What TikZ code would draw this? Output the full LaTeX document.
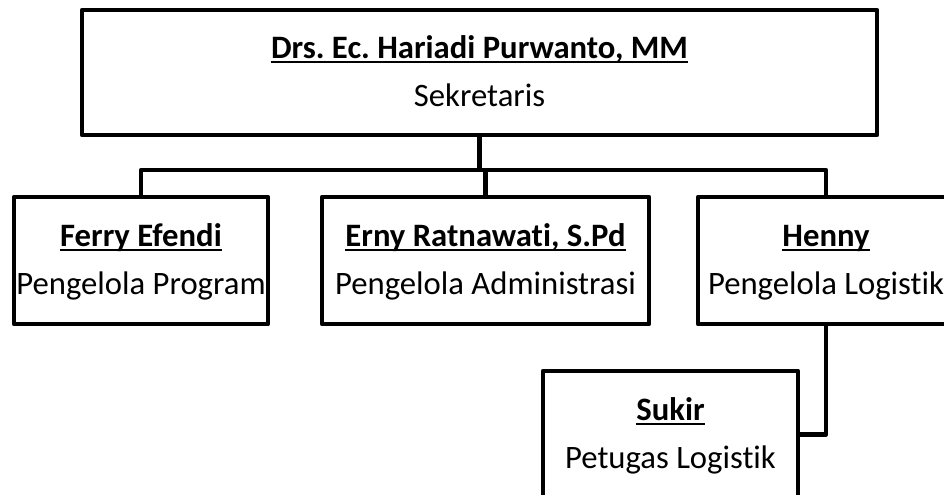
\documentclass[tikz,border=0pt]{standalone}
\usepackage{fontspec}
\setmainfont[Ligatures=NoCommon]{Carlito}
\frenchspacing

% name with a fixed underline under the baseline
\newcommand{\uln}[1]{\setbox0\hbox{#1}\rlap{\rule[-3pt]{\wd0}{1.1pt}}\box0}
\newcommand{\person}[2]{\strut\uln{\textbf{#1}}\\\strut #2}

\tikzset{
	staff/.style={draw, line width=2.6pt, line join=round, rectangle, align=center,
		minimum height=25.4mm, inner sep=0pt, font=\fontsize{18.6}{27.5}\selectfont},
	link/.style={line width=2.6pt, line join=round}
}

\begin{document}
\begin{tikzpicture}[x=0.2mm, y=-0.2mm]
		\useasboundingbox (0,0) rectangle (944,494);
		\clip (0,0) rectangle (944,494);
		
		\node[staff, minimum width=159mm, minimum height=25mm] (top) at (479.5,72.5)
			{\person{Drs. Ec. Hariadi Purwanto, MM}{Sekretaris}};
		\node[staff, minimum width=50.8mm] (ferry) at (141,260.5)
			{\person{Ferry Efendi}{Pengelola Program}};
		\node[staff, minimum width=65.4mm] (erny) at (485.5,260.5)
			{\person{Erny Ratnawati, S.Pd}{Pengelola Administrasi}};
		\node[staff, minimum width=51.2mm] (henny) at (826,260.5)
			{\person{Henny}{Pengelola Logistik}};
		\node[staff, minimum width=51mm] (sukir) at (670.5,434.5)
			{\person{Sukir}{Petugas Logistik}};
		
		\coordinate (bus) at (482,170);
		\draw[link] (top.south) -- (top.south |- bus);
		\draw[link] (ferry.north) |- (bus) -| (henny.north);
		\draw[link] (erny.north) -- (erny.north |- bus);
		\draw[link] (henny.south) |- (sukir.east);
	\end{tikzpicture}
\end{document}
